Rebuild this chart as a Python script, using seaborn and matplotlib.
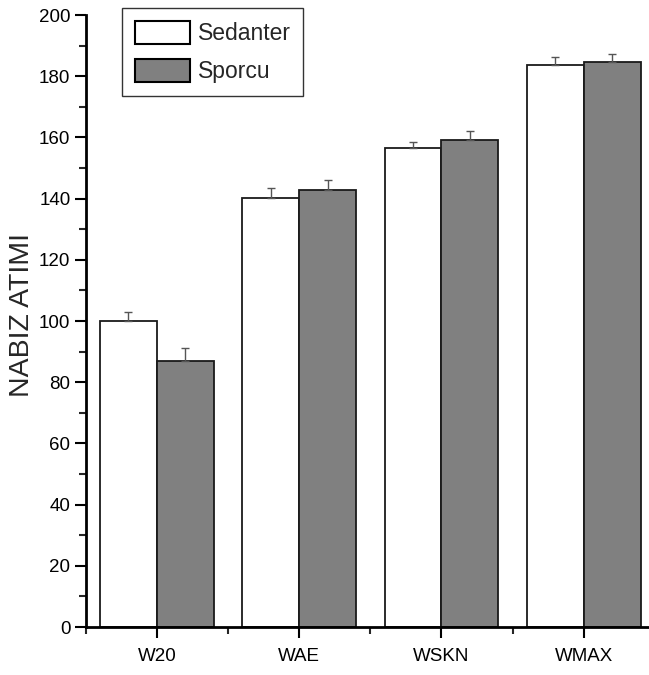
import matplotlib
matplotlib.use("Agg")
import matplotlib.pyplot as plt
import seaborn as sns
import pandas as pd
import numpy as np
from matplotlib.ticker import MultipleLocator, FixedLocator

categories = ["W20", "WAE", "WSKN", "WMAX"]
groups = ["Sedanter", "Sporcu"]
sedanter = [100.0, 140.3, 156.4, 183.7]
sporcu = [87.0, 142.8, 159.0, 184.6]
sedanter_err = [3.0, 3.1, 2.0, 2.5]
sporcu_err = [4.3, 3.2, 3.0, 2.7]

df = pd.DataFrame({
    "cat": categories * 2,
    "grp": [groups[0]] * 4 + [groups[1]] * 4,
    "val": sedanter + sporcu,
})

sns.set_style("ticks")
plt.rcParams["font.family"] = ["Liberation Sans", "DejaVu Sans"]

W, H = 649, 675
fig = plt.figure(figsize=(W / 100, H / 100), dpi=100)
left, right, top, bottom = 85.7, 649, 15, 627
ax = fig.add_axes([left / W, 1 - bottom / H, (right - left) / W, (bottom - top) / H])

sns.barplot(data=df, x="cat", y="val", hue="grp", order=categories, hue_order=groups,
            palette={"Sedanter": "white", "Sporcu": "#808080"}, edgecolor="#1a1a1a",
            linewidth=1.3, width=0.8, errorbar=None, ax=ax, saturation=1)

# error bars (upper only)
for i, (vals, errs) in enumerate([(sedanter, sedanter_err), (sporcu, sporcu_err)]):
    cont = ax.containers[i]
    xs = [p.get_x() + p.get_width() / 2 for p in cont.patches]
    ax.errorbar(xs, vals, yerr=[np.zeros(len(errs)), errs], fmt="none",
                ecolor="#555555", elinewidth=1.0, capsize=3, capthick=1.0, zorder=3)

ax.set_ylim(0, 200)
ax.set_xlim(-0.5, 3.458)
ax.yaxis.set_major_locator(MultipleLocator(20))
ax.yaxis.set_minor_locator(MultipleLocator(10))
ax.xaxis.set_minor_locator(FixedLocator([-0.5, 0.5, 1.5, 2.5]))
ax.tick_params(axis="both", which="major", direction="out", length=8, width=1.5,
               labelsize=13.5, colors="black", pad=3)
ax.tick_params(axis="x", which="major", pad=7)
ax.tick_params(axis="both", which="minor", direction="out", length=5, width=1.5)
for s in ["top", "right"]:
    ax.spines[s].set_visible(False)
for s in ["left", "bottom"]:
    ax.spines[s].set_linewidth(2.0)
    ax.spines[s].set_color("black")

ax.set_xlabel("")
ax.set_ylabel("NABIZ ATIMI", fontsize=20.5)
ax.yaxis.set_label_coords(35 / W, 1 - 315 / H, transform=fig.transFigure)

leg = ax.legend(loc="upper left", bbox_to_anchor=(122 / W, 1 - 8 / H),
                bbox_transform=fig.transFigure, fontsize=16.5,
                frameon=True, fancybox=False, edgecolor="black", handlelength=2.4,
                handleheight=1.2, borderpad=0.55, labelspacing=0.6, handletextpad=0.35,
                borderaxespad=0)
leg.get_frame().set_linewidth(1.0)
for h in leg.legend_handles:
    h.set_edgecolor("black")
    h.set_linewidth(1.5)

fig.savefig("out.png", dpi=100)
